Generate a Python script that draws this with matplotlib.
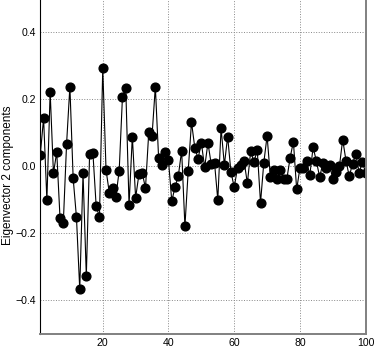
import matplotlib
matplotlib.use("Agg")
import matplotlib.pyplot as plt
import numpy as np

plt.rcParams['font.family'] = ['Liberation Sans', 'DejaVu Sans']

component_index = list(range(1, 101))
eigvec2 = [
    0.035, 0.144, -0.101, 0.222, -0.021, 0.043, -0.154, -0.169, 0.068, 0.238,
    -0.036, -0.152, -0.367, -0.021, -0.327, 0.037, 0.041, -0.119, -0.151, 0.293,
    -0.011, -0.079, -0.065, -0.090, -0.013, 0.208, 0.235, -0.116, 0.089, -0.094,
    -0.024, -0.019, -0.065, 0.102, 0.092, 0.238, 0.024, 0.004, 0.042, 0.018,
    -0.104, -0.061, -0.028, 0.047, -0.179, -0.013, 0.132, 0.056, 0.023, 0.070,
    -0.003, 0.070, 0.007, 0.011, -0.100, 0.114, 0.004, 0.089, -0.017, -0.062,
    -0.005, 0.004, 0.016, -0.051, 0.045, 0.013, 0.049, -0.109, 0.011, 0.091,
    -0.032, -0.010, -0.038, -0.010, -0.038, -0.038, 0.025, 0.074, -0.069, -0.004,
    -0.006, 0.016, -0.026, 0.057, 0.015, -0.032, 0.011, -0.005, 0.005, -0.039,
    -0.017, 0.000, 0.080, 0.017, -0.030, 0.008, 0.037, -0.019, 0.014, -0.020,
]
xticks = [20, 40, 60, 80, 100]
yticks = [-0.4, -0.2, 0.0, 0.2, 0.4]
ylabel = "Eigenvector 2 components"

fig = plt.figure(figsize=(3.74, 3.49), dpi=100)
ax = fig.add_axes([40.3/374, 15/349, 325.4/374, 335.3/349])
ax.plot(component_index, eigvec2, color='black', lw=0.8, marker='o',
        markersize=6.3, markerfacecolor='black', markeredgecolor='black')
ax.set_xlim(1, 100)
ax.set_ylim(-0.5, 0.5)
ax.set_xticks(xticks)
ax.set_yticks(yticks)
ax.set_yticklabels(['\u22120.4', '\u22120.2', '0.0', '0.2', '0.4'])
ax.tick_params(length=0, pad=3, labelsize=7.6)
ax.grid(True, color='#888888', ls=':', lw=0.7)
ax.set_ylabel(ylabel, fontsize=8.5)
ax.yaxis.set_label_coords((14.3 - 40.3) / 325.4, (334 - 175) / 335.3)
ax.spines['left'].set_color('black')
ax.spines['left'].set_linewidth(0.8)
for s in ['bottom', 'right']:
    ax.spines[s].set_color('#808080')
    ax.spines[s].set_linewidth(1.4)
ax.spines['top'].set_linewidth(0.8)

fig.savefig('out.png', dpi=100)
